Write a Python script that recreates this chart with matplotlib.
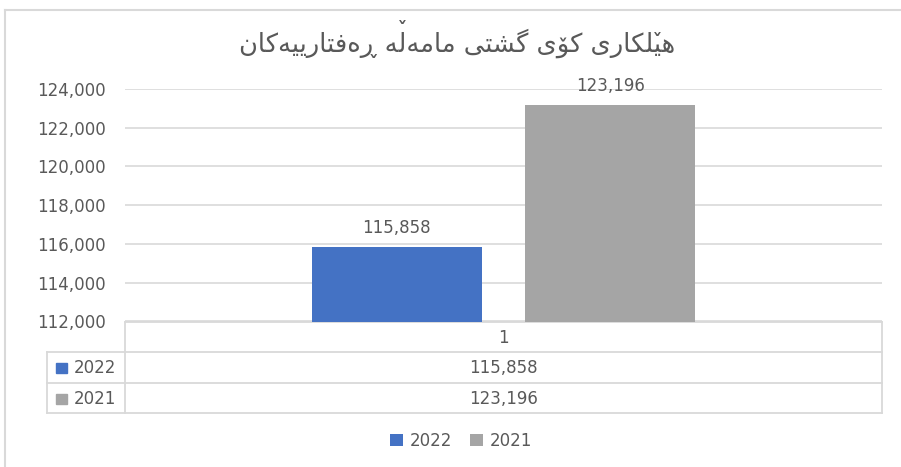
"""Bar chart with a data table, drawn in the style of an Excel chart."""

import matplotlib
matplotlib.use("Agg")
import matplotlib.pyplot as plt
from matplotlib.font_manager import FontProperties
from matplotlib.lines import Line2D
from matplotlib.patches import Rectangle
from matplotlib.textpath import TextToPath
from matplotlib.ticker import FuncFormatter

title = "هێلکاری کۆی گشتی مامەڵە ڕەفتارییەکان"
categories = ["1"]
series_names = ["2022", "2021"]
series_values = [115858, 123196]
y_ticks = [112000, 114000, 116000, 118000, 120000, 122000, 124000]

colors = ["#4472C4", "#A5A5A5"]
text_color = "#595959"
line_color = "#D9D9D9"

# presentation forms: isolated, final, initial, medial
DUAL = {
    "\u0647": ("\uFEE9", "\uFEEA", "\uFEEB", "\uFEEC"),
    "\u0644": ("\uFEDD", "\uFEDE", "\uFEDF", "\uFEE0"),
    "\u06A9": ("\uFB8E", "\uFB8F", "\uFB90", "\uFB91"),
    "\u06CC": ("\uFBFC", "\uFBFD", "\uFBFE", "\uFBFF"),
    "\u06AF": ("\uFB92", "\uFB93", "\uFB94", "\uFB95"),
    "\u0634": ("\uFEB5", "\uFEB6", "\uFEB7", "\uFEB8"),
    "\u062A": ("\uFE95", "\uFE96", "\uFE97", "\uFE98"),
    "\u0645": ("\uFEE1", "\uFEE2", "\uFEE3", "\uFEE4"),
    "\u0641": ("\uFED1", "\uFED2", "\uFED3", "\uFED4"),
    "\u0646": ("\uFEE5", "\uFEE6", "\uFEE7", "\uFEE8"),
}
RIGHT = {
    "\u0627": ("\uFE8D", "\uFE8E"),
    "\u0631": ("\uFEAD", "\uFEAE"),
    "\u06C6": ("\uFBD9", "\uFBDA"),
    "\u06D5": ("\u06D5", "\uFEEA"),
    "\u0695": ("\u0695", "\u0695"),
}
# Kurdish letters with no presentation forms: base letter + small v above
MARKED = {"\u06CE": ("\u06CC", False), "\u06B5": ("\u0644", True)}


def shape_rtl(text):
    """Crude Arabic-script shaping + reversal, since matplotlib has no bidi.
    Returns the visual string and (index, tall) for each small-v mark."""
    words = []
    for word in text.split(" "):
        base = [MARKED[c][0] if c in MARKED else c for c in word]
        clusters = []
        for i, c in enumerate(base):
            prev = base[i - 1] if i > 0 else None
            nxt = base[i + 1] if i + 1 < len(base) else None
            joins_prev = prev in DUAL
            mark = MARKED[word[i]][1] if word[i] in MARKED else None
            if c in DUAL:
                joins_next = nxt in DUAL or nxt in RIGHT
                iso, fin, ini, med = DUAL[c]
                if joins_prev and joins_next:
                    g = med
                elif joins_prev:
                    g = fin
                elif joins_next:
                    g = ini
                else:
                    g = iso
            elif c in RIGHT:
                iso, fin = RIGHT[c]
                g = fin if joins_prev else iso
            else:
                g = c
            clusters.append((g, mark))
        words.append(list(reversed(clusters)))
    visual, marks = "", []
    for k, w in enumerate(reversed(words)):
        if k:
            visual += " "
        for g, mark in w:
            if mark is not None:
                marks.append((len(visual), mark))
            visual += g
    return visual, marks


plt.rcParams["font.family"] = ["DejaVu Sans"]

W, H = 901, 467
fig = plt.figure(figsize=(W / 100, H / 100), dpi=100)
fig.patch.set_facecolor("white")

# pixel layout
L, R, T, B = 125, 882, 89, 321.5
label_left = 47
row_lines = [B, 352, 382.5, 413]
fs = 12

# overlay in pixel coords for frame and data table
ov = fig.add_axes([0, 0, 1, 1])
ov.set_xlim(0, W)
ov.set_ylim(H, 0)
ov.axis("off")
ov.add_line(Line2D([5, 5], [10, H], color=line_color, lw=1.5))
ov.add_line(Line2D([5, W], [10, 10], color=line_color, lw=1.5))

ov.add_line(Line2D([L, R], [row_lines[0]] * 2, color=line_color, lw=1.3))
for y in row_lines[1:]:
    ov.add_line(Line2D([label_left, R], [y, y], color=line_color, lw=1.3))
ov.add_line(Line2D([label_left, label_left], [row_lines[1], row_lines[3]], color=line_color, lw=1.3))
ov.add_line(Line2D([L, L], [row_lines[0], row_lines[3]], color=line_color, lw=1.3))
ov.add_line(Line2D([R, R], [row_lines[0], row_lines[3]], color=line_color, lw=1.3))

ov.text((L + R) / 2, (row_lines[0] + row_lines[1]) / 2 + 1, categories[0],
        ha="center", va="center", fontsize=fs, color=text_color)
for i, (name, val, col) in enumerate(zip(series_names, series_values, colors)):
    yc = (row_lines[i + 1] + row_lines[i + 2]) / 2 + 1
    ov.add_patch(Rectangle((56, yc - 5), 11, 10, color=col))
    ov.text(74, yc, name, ha="left", va="center", fontsize=fs, color=text_color)
    ov.text((L + R) / 2, yc, f"{val:,}", ha="center", va="center", fontsize=fs, color=text_color)

# title, with the small v marks laid over their base letters
title_fs = 18.5
tx, ty = 457, 52
visual, marks = shape_rtl(title)
ov.text(tx, ty, visual, ha="center", va="baseline", fontsize=title_fs, color=text_color)
prop = FontProperties(family="DejaVu Sans", size=title_fs)
ttp = TextToPath()


def text_px(s):
    return ttp.get_text_width_height_descent(s, prop, ismath=False)[0] * 100 / 72


left = tx - text_px(visual) / 2
for idx, tall in marks:
    xc = left + text_px(visual[:idx + 1]) - text_px(visual[idx]) / 2
    ov.text(xc, ty - (12 if tall else 0), "\u065A", ha="center", va="baseline",
            fontsize=title_fs, color=text_color)

# main chart
ax = fig.add_axes([L / W, 1 - B / H, (R - L) / W, (B - T) / H])
ax.patch.set_alpha(0)
width = 0.225
gap = 0.057
offsets = [-(width + gap) / 2, (width + gap) / 2]
bars = []
for name, val, col, off in zip(series_names, series_values, colors, offsets):
    b = ax.bar(off, val, width=width, color=col, label=name, zorder=3)
    bars.append(b)
    ax.bar_label(b, labels=[f"{val:,}"], padding=7, fontsize=fs, color=text_color)

ax.set_xlim(-0.5, 0.5)
ax.set_ylim(y_ticks[0], y_ticks[-1])
ax.set_yticks(y_ticks)
ax.yaxis.set_major_formatter(FuncFormatter(lambda v, p: f"{int(v):,}"))
ax.set_xticks([])
ax.tick_params(axis="y", length=0, pad=14, labelsize=fs, labelcolor=text_color)
ax.grid(axis="y", color=line_color, lw=1.2, zorder=0)
for s in ax.spines.values():
    s.set_visible(False)

fig.legend(handles=[b.patches[0] for b in bars], labels=series_names,
           loc="center", bbox_to_anchor=(461 / W, 1 - 441 / H), ncol=2,
           frameon=False, fontsize=fs, labelcolor=text_color,
           handlelength=0.75, handleheight=0.75, handletextpad=0.4, columnspacing=1.1)

fig.savefig("out.png", dpi=100, facecolor="white")
